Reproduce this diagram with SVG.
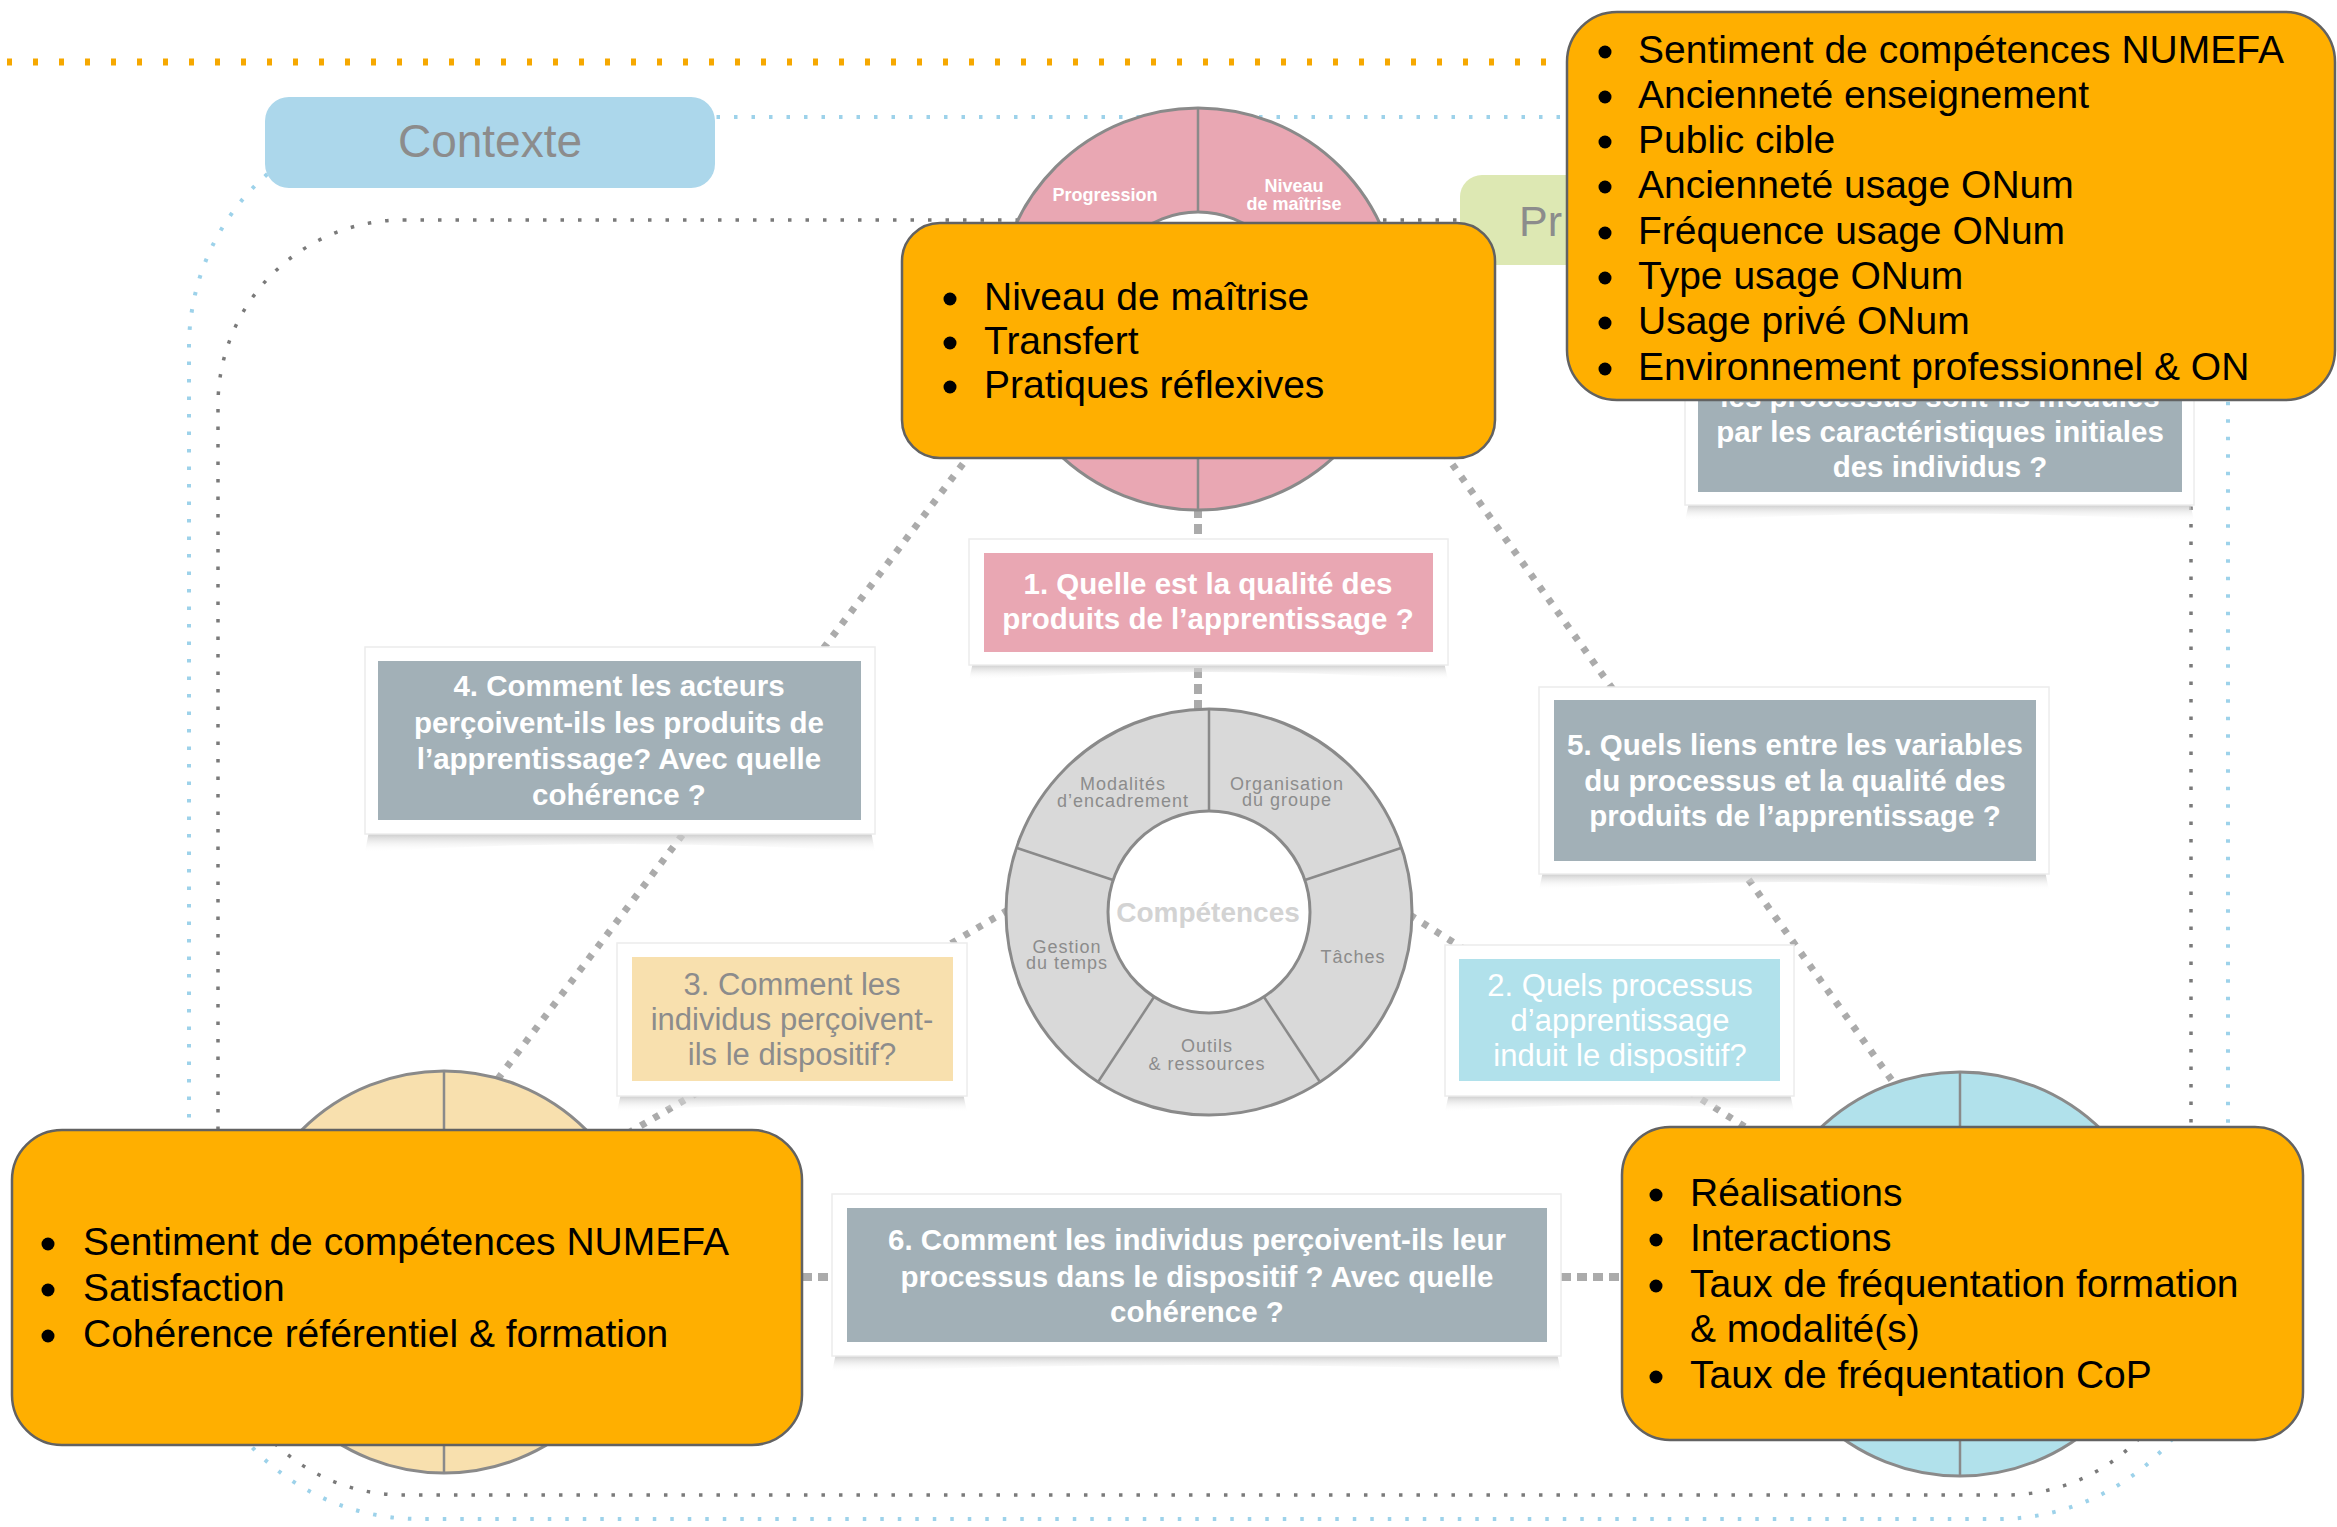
<svg xmlns="http://www.w3.org/2000/svg" width="2337" height="1527" viewBox="0 0 2337 1527">
<defs>
<linearGradient id="sh" x1="0" y1="0" x2="0" y2="1">
<stop offset="0" stop-color="#b9b9b9"/>
<stop offset="1" stop-color="#ffffff" stop-opacity="0"/>
</linearGradient>
<style>
text{font-family:"Liberation Sans",Arial,Helvetica,sans-serif}
.bd{fill:none;stroke:#9dd2ea;stroke-width:4;stroke-dasharray:3.5 14}
.gd{fill:none;stroke:#7a7a7a;stroke-width:3.5;stroke-dasharray:3.5 14}
.od{fill:none;stroke:#f6a800;stroke-width:7;stroke-dasharray:5 21}
.dc{fill:none;stroke:#ababab;stroke-width:7;stroke-dasharray:6 9}
.ds{fill:none;stroke:#ababab;stroke-width:8;stroke-dasharray:10 6}
.card{fill:#ffffff;stroke:#ececec;stroke-width:1.5}
.shadow{fill:url(#sh)}
.qg{fill:#a2b0b7}
.qp{fill:#e9a7b3}
.qb{fill:#b1e1eb}
.qy{fill:#f8e0ae}
.qw{fill:#ffffff;font-size:29.5px;font-weight:bold;text-anchor:middle}
.qn{font-size:31px;text-anchor:middle}
.ring{stroke:#8a8a8a;stroke-width:3}
.hole{fill:#ffffff;stroke:#8a8a8a;stroke-width:3}
.div{stroke:#8a8a8a;stroke-width:2.5}
.orange{fill:#ffaf00;stroke:#626262;stroke-width:2.5}
.ot{font-size:39px;fill:#000000}
.bul{fill:#000000}
.wl{font-size:18px;fill:#8c8c8c;text-anchor:middle;letter-spacing:1px}
.pl{font-size:18px;fill:#ffffff;font-weight:bold;text-anchor:middle}
.title{font-size:46px;fill:#8c8c8c}
</style>
</defs>
<rect width="2337" height="1527" fill="#ffffff"/>

<g id="frames">
<path class="bd" d="M 419,117 H 1998 A 230 230 0 0 1 2228,347 V 1289 A 230 230 0 0 1 1998,1519 H 419 A 230 230 0 0 1 189,1289 V 347 A 230 230 0 0 1 419,117 Z"/>
<path class="gd" d="M 403,220 H 2006 A 185 185 0 0 1 2191,405 V 1310 A 185 185 0 0 1 2006,1495 H 403 A 185 185 0 0 1 218,1310 V 405 A 185 185 0 0 1 403,220 Z"/>
<path class="od" d="M 7,62 H 1570"/>
</g>

<g id="connectors">
<path class="dc" d="M 981,440 L 497,1080"/>
<path class="dc" d="M 1435,440 L 1893,1082"/>
<path class="dc" d="M 1008,910 L 620,1138"/>
<path class="dc" d="M 1410,915 L 1750,1130"/>
<path class="ds" d="M 1198,508 V 540"/>
<path class="ds" d="M 1198,668 V 710"/>
<path class="ds" d="M 802,1277 H 832"/>
<path class="ds" d="M 1561,1277 H 1622"/>
</g>

<g id="node-contexte">
<rect x="265" y="97" width="450" height="91" rx="24" fill="#acd7eb"/>
<text class="title" x="490" y="157" text-anchor="middle">Contexte</text>
</g>

<g id="node-processus">
<rect x="1460" y="175" width="300" height="90" rx="22" fill="#dde8b3"/>
<text class="title" x="1519" y="236" style="font-size:43px">Pr</text>
</g>

<g id="node-produits">
<circle class="ring" cx="1198" cy="309" r="201" fill="#e9a7b3"/>
<circle class="hole" cx="1198" cy="309" r="97"/>
<line class="div" x1="1198" y1="108" x2="1198" y2="212"/>
<line class="div" x1="1198" y1="406" x2="1198" y2="510"/>
<text class="pl" x="1105" y="201">Progression</text>
<text class="pl" x="1294" y="192">Niveau</text>
<text class="pl" x="1294" y="210">de maîtrise</text>
</g>

<g id="node-individus">
<circle class="ring" cx="444" cy="1272" r="201" fill="#f8e0ae"/>
<circle class="hole" cx="444" cy="1272" r="97"/>
<line class="div" x1="444" y1="1071" x2="444" y2="1175"/>
<line class="div" x1="444" y1="1369" x2="444" y2="1473"/>
</g>

<g id="node-dispositif">
<circle class="ring" cx="1960" cy="1274" r="202" fill="#b1e1eb"/>
<circle class="hole" cx="1960" cy="1274" r="97"/>
<line class="div" x1="1960" y1="1072" x2="1960" y2="1177"/>
<line class="div" x1="1960" y1="1371" x2="1960" y2="1476"/>
</g>

<g id="node-competences">
<circle class="ring" cx="1209" cy="912" r="203" fill="#d9d9d9"/>
<circle class="hole" cx="1209" cy="912" r="101"/>
<line class="div" x1="1209" y1="811" x2="1209" y2="709"/>
<line class="div" x1="1305" y1="880" x2="1401" y2="848"/>
<line class="div" x1="1264" y1="997" x2="1320" y2="1082"/>
<line class="div" x1="1154" y1="997" x2="1098" y2="1082"/>
<line class="div" x1="1113" y1="880" x2="1017" y2="848"/>
<text class="wl" x="1123" y="790">Modalités</text>
<text class="wl" x="1123" y="807">d’encadrement</text>
<text class="wl" x="1287" y="790">Organisation</text>
<text class="wl" x="1287" y="806">du groupe</text>
<text class="wl" x="1067" y="953">Gestion</text>
<text class="wl" x="1067" y="969">du temps</text>
<text class="wl" x="1353" y="963">Tâches</text>
<text class="wl" x="1207" y="1052">Outils</text>
<text class="wl" x="1207" y="1070">&amp; ressources</text>
<text x="1208" y="922" text-anchor="middle" style="font-size:28px;font-weight:bold;fill:#d3d3d3">Compétences</text>
</g>

<g id="q1">
<path class="shadow" d="M 973,662 H 1444 L 1448,680 Q 1208,664 969,680 Z"/>
<rect class="card" x="969" y="539" width="479" height="126"/>
<rect class="qp" x="984" y="553" width="449" height="99"/>
<text class="qw" x="1208" y="594">1. Quelle est la qualité des</text>
<text class="qw" x="1208" y="629">produits de l’apprentissage ?</text>
</g>

<g id="q4">
<path class="shadow" d="M 369,831 H 871 L 875,852 Q 620,836 365,852 Z"/>
<rect class="card" x="365" y="647" width="510" height="187"/>
<rect class="qg" x="378" y="661" width="483" height="159"/>
<text class="qw" x="619" y="696">4. Comment les acteurs</text>
<text class="qw" x="619" y="733">perçoivent-ils les produits de</text>
<text class="qw" x="619" y="769">l’apprentissage? Avec quelle</text>
<text class="qw" x="619" y="805">cohérence ?</text>
</g>

<g id="q3">
<path class="shadow" d="M 621,1093 H 963 L 967,1112 Q 792,1098 617,1112 Z"/>
<rect class="card" x="617" y="943" width="350" height="153"/>
<rect class="qy" x="632" y="957" width="321" height="124"/>
<text class="qn" x="792" y="995" fill="#8c8c8c">3. Comment les</text>
<text class="qn" x="792" y="1030" fill="#8c8c8c">individus perçoivent-</text>
<text class="qn" x="792" y="1065" fill="#8c8c8c">ils le dispositif?</text>
</g>

<g id="q2">
<path class="shadow" d="M 1449,1093 H 1790 L 1794,1112 Q 1620,1098 1445,1112 Z"/>
<rect class="card" x="1445" y="945" width="349" height="151"/>
<rect class="qb" x="1459" y="959" width="321" height="122"/>
<text class="qn" x="1620" y="996" fill="#ffffff">2. Quels processus</text>
<text class="qn" x="1620" y="1031" fill="#ffffff">d’apprentissage</text>
<text class="qn" x="1620" y="1066" fill="#ffffff">induit le dispositif?</text>
</g>

<g id="q5">
<path class="shadow" d="M 1543,871 H 2045 L 2049,890 Q 1795,874 1539,890 Z"/>
<rect class="card" x="1539" y="687" width="510" height="187"/>
<rect class="qg" x="1554" y="700" width="482" height="161"/>
<text class="qw" x="1795" y="755">5. Quels liens entre les variables</text>
<text class="qw" x="1795" y="791">du processus et la qualité des</text>
<text class="qw" x="1795" y="826">produits de l’apprentissage ?</text>
</g>

<g id="q6">
<path class="shadow" d="M 836,1353 H 1557 L 1561,1372 Q 1197,1358 832,1372 Z"/>
<rect class="card" x="832" y="1194" width="729" height="162"/>
<rect class="qg" x="847" y="1208" width="700" height="134"/>
<text class="qw" x="1197" y="1250">6. Comment les individus perçoivent-ils leur</text>
<text class="qw" x="1197" y="1287">processus dans le dispositif ? Avec quelle</text>
<text class="qw" x="1197" y="1322">cohérence ?</text>
</g>

<g id="q7">
<path class="shadow" d="M 1689,502 H 2190 L 2194,521 Q 1940,506 1685,521 Z"/>
<rect class="card" x="1685" y="330" width="509" height="175"/>
<rect class="qg" x="1698" y="343" width="484" height="149"/>
<text class="qw" x="1940" y="407">les processus sont-ils modulés</text>
<text class="qw" x="1940" y="442">par les caractéristiques initiales</text>
<text class="qw" x="1940" y="477">des individus ?</text>
</g>

<g id="box-produits">
<rect class="orange" x="902" y="223" width="593" height="235" rx="38"/>
<circle class="bul" cx="950" cy="299" r="6.5"/>
<circle class="bul" cx="950" cy="343" r="6.5"/>
<circle class="bul" cx="950" cy="387" r="6.5"/>
<text class="ot" x="984" y="310">Niveau de maîtrise</text>
<text class="ot" x="984" y="354">Transfert</text>
<text class="ot" x="984" y="398">Pratiques réflexives</text>
</g>

<g id="box-caracteristiques">
<rect class="orange" x="1567" y="12" width="768" height="388" rx="50"/>
<circle class="bul" cx="1605" cy="52" r="6.5"/>
<circle class="bul" cx="1605" cy="97" r="6.5"/>
<circle class="bul" cx="1605" cy="142" r="6.5"/>
<circle class="bul" cx="1605" cy="187" r="6.5"/>
<circle class="bul" cx="1605" cy="233" r="6.5"/>
<circle class="bul" cx="1605" cy="278" r="6.5"/>
<circle class="bul" cx="1605" cy="323" r="6.5"/>
<circle class="bul" cx="1605" cy="369" r="6.5"/>
<text class="ot" x="1638" y="63">Sentiment de compétences NUMEFA</text>
<text class="ot" x="1638" y="108">Ancienneté enseignement</text>
<text class="ot" x="1638" y="153">Public cible</text>
<text class="ot" x="1638" y="198">Ancienneté usage ONum</text>
<text class="ot" x="1638" y="244">Fréquence usage ONum</text>
<text class="ot" x="1638" y="289">Type usage ONum</text>
<text class="ot" x="1638" y="334">Usage privé ONum</text>
<text class="ot" x="1638" y="380">Environnement professionnel &amp; ON</text>
</g>

<g id="box-individus">
<rect class="orange" x="12" y="1130" width="790" height="315" rx="50"/>
<circle class="bul" cx="48" cy="1244" r="6.5"/>
<circle class="bul" cx="48" cy="1290" r="6.5"/>
<circle class="bul" cx="48" cy="1336" r="6.5"/>
<text class="ot" x="83" y="1255">Sentiment de compétences NUMEFA</text>
<text class="ot" x="83" y="1301">Satisfaction</text>
<text class="ot" x="83" y="1347">Cohérence référentiel &amp; formation</text>
</g>

<g id="box-dispositif">
<rect class="orange" x="1622" y="1127" width="681" height="313" rx="48"/>
<circle class="bul" cx="1656" cy="1195" r="6.5"/>
<circle class="bul" cx="1656" cy="1240" r="6.5"/>
<circle class="bul" cx="1656" cy="1286" r="6.5"/>
<circle class="bul" cx="1656" cy="1377" r="6.5"/>
<text class="ot" x="1690" y="1206">Réalisations</text>
<text class="ot" x="1690" y="1251">Interactions</text>
<text class="ot" x="1690" y="1297">Taux de fréquentation formation</text>
<text class="ot" x="1690" y="1342">&amp; modalité(s)</text>
<text class="ot" x="1690" y="1388">Taux de fréquentation CoP</text>
</g>
</svg>
